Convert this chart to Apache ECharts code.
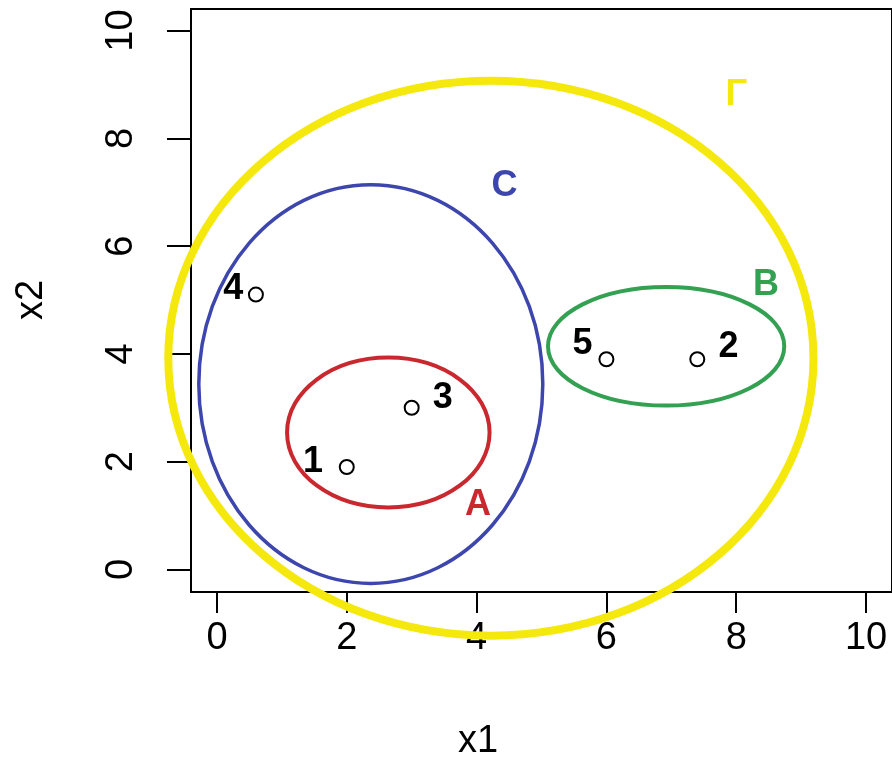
<!DOCTYPE html>
<html>
<head>
<meta charset="utf-8">
<title>x1 x2 sets</title>
<script src="https://cdn.jsdelivr.net/npm/echarts@6/dist/echarts.min.js"></script>
<style>
  html, body { margin: 0; padding: 0; background: #fff; }
  #chart { width: 892px; height: 783px; }
</style>
</head>
<body>
<div id="chart"></div>
<script>
// points
const pointNames = ['1', '2', '3', '4', '5'];
const pointX = [2, 7.4, 3, 0.6, 6];
const pointY = [1.9, 3.9, 3, 5.1, 3.9];
// where the point numbers sit (data units)
const pointLabelX = [1.48, 7.88, 3.48, 0.25, 5.63];
const pointLabelY = [2.0, 4.13, 3.17, 5.2, 4.19];

// sets drawn as ellipses: centre and half axes in data units
const setNames = ['Γ', 'C', 'A', 'B'];
const setCx = [4.22, 2.37, 2.64, 6.92];
const setCy = [3.92, 3.44, 2.54, 4.14];
const setRx = [4.97, 2.65, 1.56, 1.82];
const setRy = [5.15, 3.7, 1.39, 1.1];
const setLabelX = [8.0, 4.43, 4.02, 8.46];
const setLabelY = [8.8, 7.11, 1.19, 5.28];

const xTicks = [0, 2, 4, 6, 8, 10];
const yTicks = [0, 2, 4, 6, 8, 10];

const setColors = ['#f5e80c', '#3d46ad', '#c9282f', '#33a052'];
const setWidths = [8, 3.5, 4, 4];
const FONT = "'Liberation Sans', Arial, sans-serif";

const chart = echarts.init(document.getElementById('chart'));

const ellipseData = setNames.map((n, i) => [setCx[i], setCy[i], setRx[i], setRy[i]]);

const option = {
  animation: false,
  backgroundColor: '#fff',
  grid: {
    left: 191,
    top: 9,
    width: 702,
    height: 583,
    show: true,
    borderColor: '#000',
    borderWidth: 2,
    backgroundColor: 'transparent',
  },
  xAxis: {
    type: 'value',
    min: -0.4,
    max: 10.4,
    axisLine: { show: false, onZero: false },
    splitLine: { show: false },
    axisTick: {
      show: true,
      inside: false,
      length: 21,
      customValues: xTicks,
      lineStyle: { color: '#000', width: 2 },
    },
    axisLabel: {
      customValues: xTicks,
      margin: 28,
      color: '#000',
      fontSize: 38,
      fontFamily: FONT,
    },
  },
  yAxis: {
    type: 'value',
    min: -0.42,
    max: 10.4,
    axisLine: { show: false, onZero: false },
    splitLine: { show: false },
    axisTick: {
      show: true,
      inside: false,
      length: 24,
      customValues: yTicks,
      lineStyle: { color: '#000', width: 2 },
    },
    axisLabel: {
      customValues: yTicks,
      rotate: 90,
      margin: 50,
      color: '#000',
      fontSize: 38,
      fontFamily: FONT,
    },
  },
  graphic: [
    {
      type: 'text',
      x: 478,
      y: 742,
      style: { text: 'x1', fontSize: 38, fontFamily: FONT, fill: '#000', align: 'center', verticalAlign: 'middle' },
    },
    {
      type: 'text',
      x: 32,
      y: 300,
      rotation: Math.PI / 2,
      style: { text: 'x2', fontSize: 38, fontFamily: FONT, fill: '#000', align: 'center', verticalAlign: 'middle' },
    },
  ],
  series: [
    {
      type: 'custom',
      clip: false,
      z: 3,
      renderItem(params, api) {
        const c = api.coord([api.value(0), api.value(1)]);
        const s = api.size([api.value(2), api.value(3)]);
        return {
          type: 'ellipse',
          shape: { cx: c[0], cy: c[1], rx: s[0], ry: s[1] },
          style: {
            fill: 'none',
            stroke: setColors[params.dataIndex],
            lineWidth: setWidths[params.dataIndex],
          },
        };
      },
      data: ellipseData,
    },
    {
      type: 'scatter',
      z: 4,
      symbol: 'emptyCircle',
      symbolSize: 14,
      itemStyle: { color: '#000', borderColor: '#111', borderWidth: 2, opacity: 1 },
      data: pointX.map((x, i) => [x, pointY[i]]),
    },
    {
      type: 'scatter',
      z: 5,
      symbolSize: 0,
      silent: true,
      itemStyle: { opacity: 1 },
      label: {
        show: true,
        position: 'inside',
        formatter: (p) => pointNames[p.dataIndex],
        color: '#000',
        opacity: 1,
        fontSize: 36,
        fontWeight: 'bold',
        fontFamily: FONT,
      },
      data: pointLabelX.map((x, i) => [x, pointLabelY[i]]),
    },
    {
      type: 'scatter',
      z: 5,
      symbolSize: 0,
      silent: true,
      itemStyle: { opacity: 1 },
      label: {
        show: true,
        position: 'inside',
        formatter: (p) => setNames[p.dataIndex],
        opacity: 1,
        fontSize: 36,
        fontWeight: 'bold',
        fontFamily: FONT,
      },
      data: setLabelX.map((x, i) => ({
        value: [x, setLabelY[i]],
        label: { color: setColors[i] },
      })),
    },
  ],
};

chart.setOption(option);
</script>
</body>
</html>
